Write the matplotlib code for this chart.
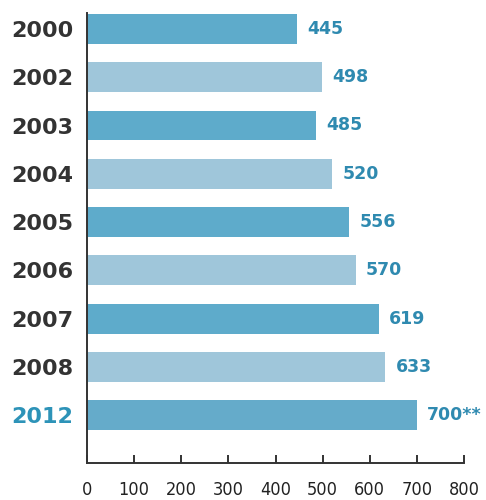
import matplotlib.pyplot as plt

# data
years = ['2000', '2002', '2003', '2004', '2005', '2006', '2007', '2008', '2012']
values = [445, 498, 485, 520, 556, 570, 619, 633, 700]
value_labels = ['445', '498', '485', '520', '556', '570', '619', '633', '700**']
x_ticks = [0, 100, 200, 300, 400, 500, 600, 700, 800]

DARK = '#5eabcb'
LIGHT = '#9fc6da'
colors = [DARK if i % 2 == 0 else LIGHT for i in range(len(years))]
colors[-1] = '#65abca'

fig = plt.figure(figsize=(4.86, 5.0), dpi=100)
ax = fig.add_axes([0.179, 0.074, 0.776, 0.90])

pos = list(range(len(years)))
bars = ax.barh(pos, values, height=0.62, color=colors)

for b, lab in zip(bars, value_labels):
    ax.text(b.get_width() + 22, b.get_y() + b.get_height() / 2, lab,
            ha='left', va='center', fontsize=12.5, fontweight='bold',
            color='#2f8ab0')

ax.set_xlim(0, 800)
ax.set_ylim(len(years) - 1 + 0.99, -0.33)

ax.set_yticks(pos)
ax.set_yticklabels(years, fontsize=16, fontweight='bold', color='#333333')
ax.get_yticklabels()[-1].set_color('#2d93b8')
ax.tick_params(axis='y', length=0, pad=10)

ax.set_xticks(x_ticks)
ax.set_xticklabels([str(t) for t in x_ticks], family='DejaVu Sans',
                   fontstretch='condensed', fontsize=13, color='#222222')
ax.tick_params(axis='x', direction='in', length=6, width=1.4,
               color='#333333', pad=13)

for side in ['top', 'right']:
    ax.spines[side].set_visible(False)
for side in ['left', 'bottom']:
    ax.spines[side].set_color('#333333')
    ax.spines[side].set_linewidth(1.4)

fig.savefig('out.png', dpi=100)
